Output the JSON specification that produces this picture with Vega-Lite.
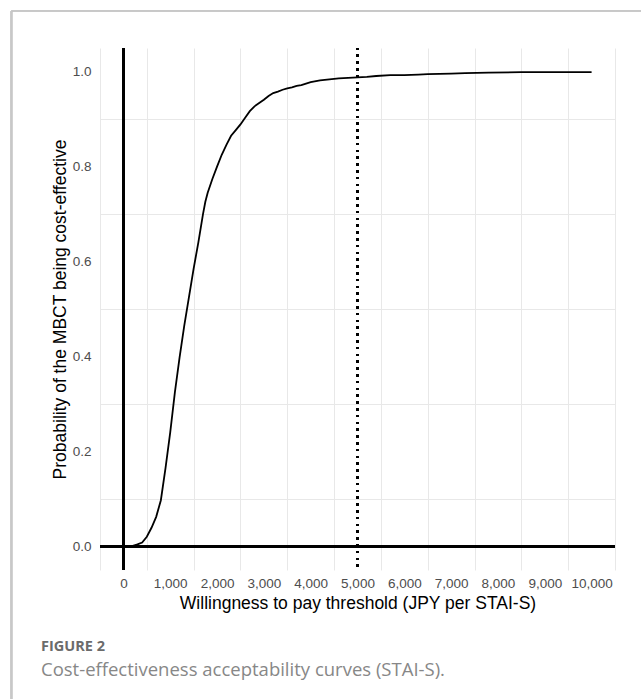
{
  "$schema": "https://vega.github.io/schema/vega-lite/v6.json",
  "width": 515,
  "height": 522,
  "autosize": {"type": "none"},
  "padding": {"left": 100, "top": 48, "right": 26, "bottom": 129},
  "background": "white",
  "title": {
    "text": "FIGURE 2",
    "subtitle": "Cost-effectiveness acceptability curves (STAI-S).",
    "orient": "bottom",
    "anchor": "start",
    "frame": "group",
    "dx": -59,
    "offset": -73,
    "font": "Open Sans",
    "fontSize": 14.5,
    "fontWeight": "bold",
    "color": "#6b6b6b",
    "subtitleFont": "Open Sans",
    "subtitleFontSize": 18.5,
    "subtitleColor": "#878787",
    "subtitlePadding": 7
  },
  "config": {
    "view": {"stroke": null},
    "axis": {
      "domain": false,
      "ticks": false,
      "labelFont": "Liberation Sans",
      "labelFontSize": 13.5,
      "labelColor": "#4d4d4d",
      "titleFont": "Liberation Sans",
      "titleFontSize": 17.5,
      "titleFontWeight": "normal",
      "titleColor": "#000000",
      "gridColor": "#e8e8e8",
      "labelOverlap": false,
      "labelFlush": false
    }
  },
  "data": {
    "values": [
      {"wtp": 0, "prob": 0.0},
      {"wtp": 100, "prob": 0.0},
      {"wtp": 200, "prob": 0.001},
      {"wtp": 300, "prob": 0.004},
      {"wtp": 400, "prob": 0.008},
      {"wtp": 500, "prob": 0.02},
      {"wtp": 600, "prob": 0.039},
      {"wtp": 700, "prob": 0.062},
      {"wtp": 800, "prob": 0.097},
      {"wtp": 900, "prob": 0.165},
      {"wtp": 1000, "prob": 0.24},
      {"wtp": 1100, "prob": 0.325},
      {"wtp": 1200, "prob": 0.398},
      {"wtp": 1300, "prob": 0.465},
      {"wtp": 1400, "prob": 0.525},
      {"wtp": 1500, "prob": 0.585},
      {"wtp": 1600, "prob": 0.64},
      {"wtp": 1700, "prob": 0.7},
      {"wtp": 1750, "prob": 0.726},
      {"wtp": 1800, "prob": 0.745},
      {"wtp": 1900, "prob": 0.774},
      {"wtp": 2000, "prob": 0.8},
      {"wtp": 2100, "prob": 0.825},
      {"wtp": 2200, "prob": 0.846},
      {"wtp": 2300, "prob": 0.865},
      {"wtp": 2400, "prob": 0.877},
      {"wtp": 2500, "prob": 0.889},
      {"wtp": 2600, "prob": 0.903},
      {"wtp": 2700, "prob": 0.917},
      {"wtp": 2800, "prob": 0.927},
      {"wtp": 2900, "prob": 0.934},
      {"wtp": 3000, "prob": 0.941},
      {"wtp": 3100, "prob": 0.949},
      {"wtp": 3200, "prob": 0.955},
      {"wtp": 3300, "prob": 0.958},
      {"wtp": 3400, "prob": 0.962},
      {"wtp": 3500, "prob": 0.965},
      {"wtp": 3600, "prob": 0.967},
      {"wtp": 3700, "prob": 0.97},
      {"wtp": 3800, "prob": 0.972},
      {"wtp": 3900, "prob": 0.975},
      {"wtp": 4000, "prob": 0.978},
      {"wtp": 4200, "prob": 0.982},
      {"wtp": 4400, "prob": 0.984},
      {"wtp": 4600, "prob": 0.986},
      {"wtp": 4800, "prob": 0.987},
      {"wtp": 5000, "prob": 0.988},
      {"wtp": 5200, "prob": 0.989},
      {"wtp": 5400, "prob": 0.991},
      {"wtp": 5700, "prob": 0.993},
      {"wtp": 6000, "prob": 0.993},
      {"wtp": 6300, "prob": 0.994},
      {"wtp": 6500, "prob": 0.995},
      {"wtp": 7000, "prob": 0.996},
      {"wtp": 7300, "prob": 0.997},
      {"wtp": 7800, "prob": 0.998},
      {"wtp": 8500, "prob": 0.999},
      {"wtp": 9000, "prob": 0.999},
      {"wtp": 10000, "prob": 0.999}
    ]
  },
  "resolve": {"axis": {"x": "independent", "y": "independent"}},
  "layer": [
    {
      "mark": {"type": "point", "opacity": 0},
      "encoding": {
        "x": {
          "field": "wtp",
          "type": "quantitative",
          "scale": {"domain": [-500, 10500], "nice": false, "zero": false},
          "axis": {
            "title": null,
            "labels": false,
            "orient": "top",
            "values": [-500, 500, 1500, 2500, 3500, 4500, 5500, 6500, 7500, 8500, 9500, 10500],
            "gridWidth": 1.0
          }
        },
        "y": {
          "field": "prob",
          "type": "quantitative",
          "scale": {"domain": [-0.05, 1.05], "nice": false, "zero": false},
          "axis": {
            "title": null,
            "labels": false,
            "orient": "right",
            "values": [0.1, 0.3, 0.5, 0.7, 0.9],
            "gridWidth": 1.0
          }
        }
      }
    },
    {
      "mark": {"type": "line", "color": "#000000", "strokeWidth": 1.8},
      "encoding": {
        "x": {
          "field": "wtp",
          "type": "quantitative",
          "scale": {"domain": [-500, 10500], "nice": false, "zero": false},
          "axis": {
            "title": "Willingness to pay threshold (JPY per STAI-S)",
            "orient": "bottom",
            "values": [0, 1000, 2000, 3000, 4000, 5000, 6000, 7000, 8000, 9000, 10000],
            "format": ",.0f",
            "labelPadding": 6,
            "titlePadding": 5,
            "gridWidth": 1.3
          }
        },
        "y": {
          "field": "prob",
          "type": "quantitative",
          "scale": {"domain": [-0.05, 1.05], "nice": false, "zero": false},
          "axis": {
            "title": "Probability of the MBCT being cost-effective",
            "orient": "left",
            "values": [0, 0.2, 0.4, 0.6, 0.8, 1.0],
            "format": ".1f",
            "labelPadding": 9,
            "titlePadding": 3,
            "gridWidth": 1.3
          }
        }
      }
    },
    {
      "mark": {"type": "rule", "color": "#000000", "strokeWidth": 1.8},
      "encoding": {"x": {"datum": 0, "axis": null}}
    },
    {
      "mark": {"type": "rule", "color": "#000000", "strokeWidth": 1.8},
      "encoding": {"y": {"datum": 0, "axis": null}}
    },
    {
      "mark": {"type": "rule", "color": "#000000", "strokeWidth": 1.8, "strokeDash": [1.8, 5]},
      "encoding": {"x": {"datum": 5000, "axis": null}}
    },
    {
      "mark": {"type": "rule", "color": "#c8c8c8", "strokeWidth": 1.2, "clip": false},
      "encoding": {
        "x": {"datum": -2391, "axis": null},
        "x2": {"datum": 11600},
        "y": {"datum": 1.1274, "axis": null}
      }
    },
    {
      "mark": {"type": "rule", "color": "#c8c8c8", "strokeWidth": 1.2, "clip": false},
      "encoding": {
        "x": {"datum": -2391, "axis": null},
        "y": {"datum": 1.1274, "axis": null},
        "y2": {"datum": -0.35}
      }
    }
  ]
}
